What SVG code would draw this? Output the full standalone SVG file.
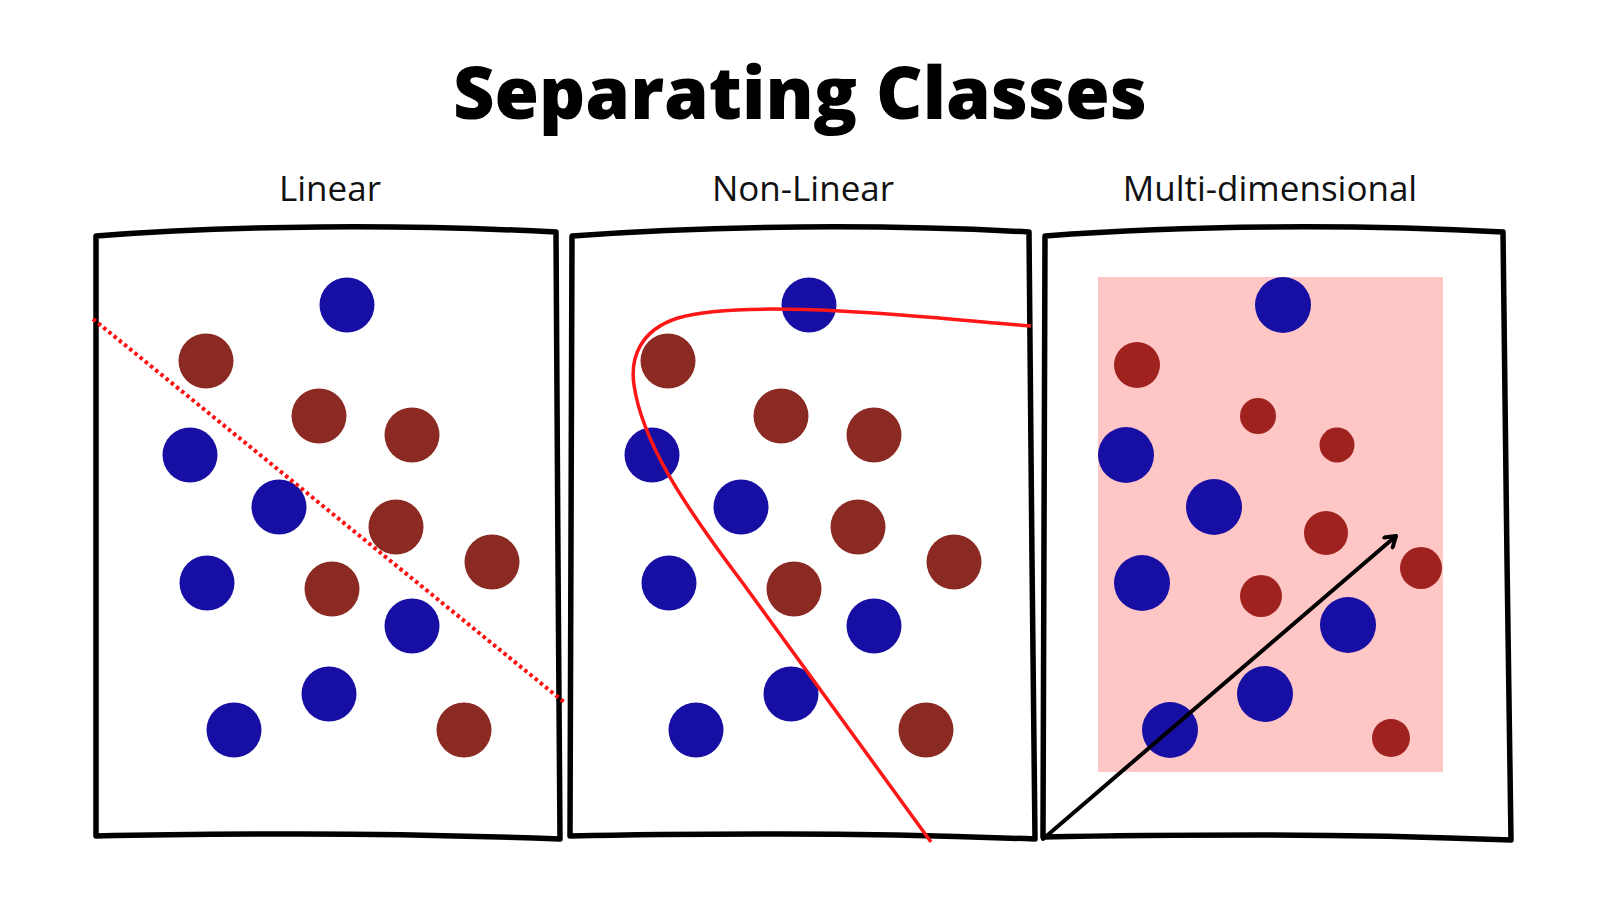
<svg xmlns="http://www.w3.org/2000/svg" width="1600" height="900" viewBox="0 0 1600 900">
  <defs>
    <style>
      .title { font-family: "Open Sans", "Liberation Sans", sans-serif; font-weight: 800; font-size: 72px; fill: #000; }
      .sub { font-family: "Open Sans", "Liberation Sans", sans-serif; font-weight: 400; font-size: 35px; fill: #111; }
      .frame { fill: #fff; stroke: #000; stroke-width: 5.5; stroke-linejoin: round; stroke-linecap: round; }
      .b { fill: #170fa3; }
      .r { fill: #8a2a22; }
      .r3 { fill: #a0221e; }
    </style>
    <marker id="chev" viewBox="0 0 16 16" refX="12" refY="8" markerWidth="16" markerHeight="16" markerUnits="userSpaceOnUse" orient="auto">
      <path d="M2,1.5 L12,8 L2,14.5" fill="none" stroke="#000" stroke-width="4" stroke-linecap="round" stroke-linejoin="round"/>
    </marker>
  </defs>
  <rect width="1600" height="900" fill="#fff"/>

  <text class="title" x="800" y="119" text-anchor="middle">Separating Classes</text>
  <text class="sub" x="330" y="201" text-anchor="middle">Linear</text>
  <text class="sub" x="803" y="201" text-anchor="middle">Non-Linear</text>
  <text class="sub" x="1270" y="201" text-anchor="middle">Multi-dimensional</text>

  <g id="panel-linear">
    <path class="frame" d="M96,236 Q200,228 320,227 T556,232 L558,560 L560,839 Q420,834 300,834 T96,836 Z"/>
    <circle class="b" cx="347" cy="305" r="27.5"/>
    <circle class="r" cx="206" cy="361" r="27.5"/>
    <circle class="r" cx="319" cy="416" r="27.5"/>
    <circle class="r" cx="412" cy="435" r="27.5"/>
    <circle class="b" cx="190" cy="455" r="27.5"/>
    <circle class="b" cx="279" cy="507" r="27.5"/>
    <circle class="r" cx="396" cy="527" r="27.5"/>
    <circle class="r" cx="492" cy="562" r="27.5"/>
    <circle class="b" cx="207" cy="583" r="27.5"/>
    <circle class="r" cx="332" cy="589" r="27.5"/>
    <circle class="b" cx="412" cy="626" r="27.5"/>
    <circle class="b" cx="329" cy="694" r="27.5"/>
    <circle class="b" cx="234" cy="730" r="27.5"/>
    <circle class="r" cx="464" cy="730" r="27.5"/>
  </g>

  <g id="panel-nonlinear">
    <path class="frame" d="M572,236 Q680,228 800,227 T1029,232 L1032,560 L1035,839 Q900,834 780,834 T570,836 Z"/>
    <circle class="b" cx="809" cy="305" r="27.5"/>
    <circle class="r" cx="668" cy="361" r="27.5"/>
    <circle class="r" cx="781" cy="416" r="27.5"/>
    <circle class="r" cx="874" cy="435" r="27.5"/>
    <circle class="b" cx="652" cy="455" r="27.5"/>
    <circle class="b" cx="741" cy="507" r="27.5"/>
    <circle class="r" cx="858" cy="527" r="27.5"/>
    <circle class="r" cx="954" cy="562" r="27.5"/>
    <circle class="b" cx="669" cy="583" r="27.5"/>
    <circle class="r" cx="794" cy="589" r="27.5"/>
    <circle class="b" cx="874" cy="626" r="27.5"/>
    <circle class="b" cx="791" cy="694" r="27.5"/>
    <circle class="b" cx="696" cy="730" r="27.5"/>
    <circle class="r" cx="926" cy="730" r="27.5"/>
  </g>

  <g id="panel-multidimensional">
    <path class="frame" d="M1045,236 Q1150,228 1270,227 T1503,232 L1507,560 L1511,840 Q1380,835 1260,835 T1043,837 Z"/>
    <rect x="1098" y="277" width="345" height="495" fill="#ffc6c6"/>
    <circle class="b" cx="1283" cy="305" r="28"/>
    <circle class="r3" cx="1137" cy="365" r="23"/>
    <circle class="r3" cx="1258" cy="416" r="18"/>
    <circle class="r3" cx="1337" cy="445" r="17.5"/>
    <circle class="b" cx="1126" cy="455" r="28"/>
    <circle class="b" cx="1214" cy="507" r="28"/>
    <circle class="r3" cx="1326" cy="533" r="22"/>
    <circle class="r3" cx="1421" cy="568" r="21"/>
    <circle class="b" cx="1142" cy="583" r="28"/>
    <circle class="r3" cx="1261" cy="596" r="21"/>
    <circle class="b" cx="1348" cy="625" r="28"/>
    <circle class="b" cx="1265" cy="694" r="28"/>
    <circle class="b" cx="1170" cy="730" r="28"/>
    <circle class="r3" cx="1391" cy="738" r="19"/>
  </g>

  <g id="connectors">
    <line x1="93" y1="319" x2="564" y2="702" stroke="#ff1010" stroke-width="4" stroke-dasharray="3.5 3.2"/>
    <path d="M1031,326 C960,320 900,314 840,311 C780,308 710,308 678,318 C640,330 630,358 634,385 C642,440 680,500 742,582 L931,842" fill="none" stroke="#ff1616" stroke-width="3.5"/>
    <line x1="1043" y1="839" x2="1396" y2="536" stroke="#000" stroke-width="4" stroke-linecap="round" marker-end="url(#chev)"/>
  </g>
</svg>
